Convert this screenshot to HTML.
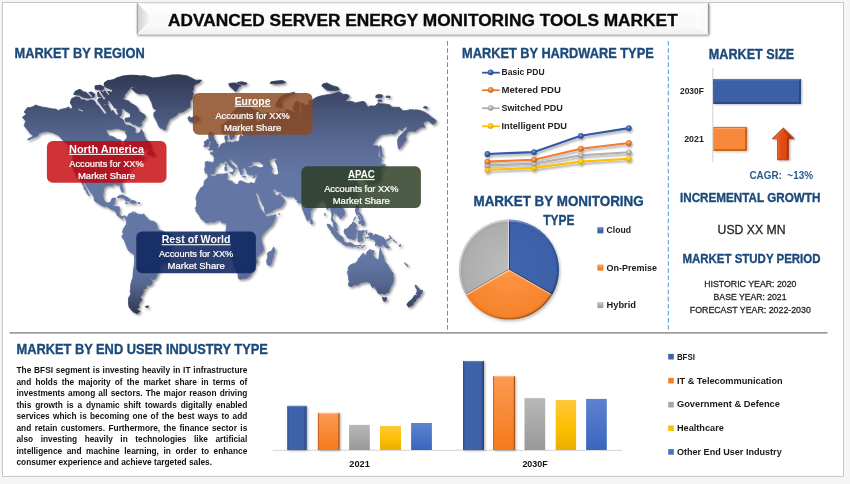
<!DOCTYPE html>
<html lang="en"><head><meta charset="utf-8"><title>Advanced Server Energy Monitoring Tools Market</title>
<style>
html,body{margin:0;padding:0;background:#f5f5f5;}
#page{position:relative;width:850px;height:484px;overflow:hidden;background:#f5f5f5;font-family:"Liberation Sans",sans-serif;}
#page svg{position:absolute;left:0;top:0;}
svg text{font-family:"Liberation Sans",sans-serif;}
.para{position:absolute;left:16.5px;top:365.0px;width:230.8px;font-size:8.3px;line-height:11.52px;font-weight:bold;color:#111;}
.para div{text-align:justify;text-align-last:justify;white-space:nowrap;height:11.52px;}
.para div.last{text-align-last:left;}
</style></head><body>
<div id="page">
<svg width="850" height="484" viewBox="0 0 850 484">
<defs>
<linearGradient id="mapg" gradientUnits="userSpaceOnUse" x1="0" y1="72" x2="0" y2="315">
<stop offset="0" stop-color="#2f3852"/><stop offset="0.10" stop-color="#3d4869"/><stop offset="0.22" stop-color="#505f86"/><stop offset="0.34" stop-color="#5d6f9b"/><stop offset="0.42" stop-color="#6376a4"/><stop offset="0.78" stop-color="#6376a4"/><stop offset="0.87" stop-color="#566790"/><stop offset="0.94" stop-color="#414d6f"/><stop offset="1" stop-color="#2b334d"/>
</linearGradient>
<filter id="mapsh" x="-5%" y="-5%" width="110%" height="110%"><feDropShadow dx="1.6" dy="1.6" stdDeviation="1.3" flood-color="#000" flood-opacity="0.42"/></filter>
<filter id="bansh" x="-5%" y="-20%" width="110%" height="150%"><feDropShadow dx="0.6" dy="1.3" stdDeviation="0.9" flood-color="#000" flood-opacity="0.55"/></filter>
<filter id="lsh" x="-10%" y="-30%" width="120%" height="170%"><feDropShadow dx="1" dy="2" stdDeviation="1.3" flood-color="#000" flood-opacity="0.35"/></filter>
<filter id="psh" x="-10%" y="-10%" width="125%" height="125%"><feDropShadow dx="1.2" dy="1.6" stdDeviation="1.4" flood-color="#000" flood-opacity="0.28"/></filter>
<filter id="bsh" x="-20%" y="-10%" width="150%" height="120%"><feDropShadow dx="1.2" dy="0.8" stdDeviation="1" flood-color="#000" flood-opacity="0.3"/></filter>
<linearGradient id="banL" x1="0" y1="0" x2="1" y2="0"><stop offset="0" stop-color="#cfcfcf"/><stop offset="1" stop-color="#f4f4f4"/></linearGradient>
<linearGradient id="banB" x1="0" y1="0" x2="0" y2="1"><stop offset="0" stop-color="#fdfdfd"/><stop offset="1" stop-color="#f1f1f1"/></linearGradient>
<linearGradient id="banR" x1="0" y1="0" x2="1" y2="0"><stop offset="0" stop-color="#fdfdfd"/><stop offset="1" stop-color="#f7f7f7"/></linearGradient>
<linearGradient id="gOr" x1="0" y1="0" x2="0" y2="1"><stop offset="0" stop-color="#fb9a52"/><stop offset="1" stop-color="#f57a1c"/></linearGradient>
<linearGradient id="gGy" x1="0" y1="0" x2="0" y2="1"><stop offset="0" stop-color="#b8b8b8"/><stop offset="1" stop-color="#989898"/></linearGradient>
<linearGradient id="gYe" x1="0" y1="0" x2="0" y2="1"><stop offset="0" stop-color="#fdc73c"/><stop offset="0.55" stop-color="#fcc000"/><stop offset="1" stop-color="#e9ae00"/></linearGradient>
<linearGradient id="gBl" x1="0" y1="0" x2="0" y2="1"><stop offset="0" stop-color="#5d82cf"/><stop offset="1" stop-color="#3a66c0"/></linearGradient>
<linearGradient id="gDb" x1="0" y1="0" x2="1" y2="0"><stop offset="0" stop-color="#2f4f8f"/><stop offset="0.12" stop-color="#3d62aa"/><stop offset="0.85" stop-color="#3d62aa"/><stop offset="1" stop-color="#243f75"/></linearGradient>
<linearGradient id="gArr" x1="0" y1="0" x2="1" y2="0"><stop offset="0" stop-color="#e9551a"/><stop offset="0.6" stop-color="#e04a10"/><stop offset="1" stop-color="#a8330a"/></linearGradient>
<radialGradient id="pB" gradientUnits="userSpaceOnUse" cx="509" cy="269.6" r="50"><stop offset="0" stop-color="#4066b0"/><stop offset="0.9" stop-color="#3c61a9"/><stop offset="1" stop-color="#365a9f"/></radialGradient>
<radialGradient id="pO" gradientUnits="userSpaceOnUse" cx="509" cy="269.6" r="50"><stop offset="0" stop-color="#fc9648"/><stop offset="0.9" stop-color="#f6842d"/><stop offset="1" stop-color="#ee7a22"/></radialGradient>
<radialGradient id="pG" gradientUnits="userSpaceOnUse" cx="509" cy="269.6" r="50"><stop offset="0" stop-color="#bdbdbd"/><stop offset="0.9" stop-color="#adadad"/><stop offset="1" stop-color="#a0a0a0"/></radialGradient>
<linearGradient id="rim" x1="0.15" y1="0.1" x2="0.85" y2="0.9"><stop offset="0" stop-color="#fff" stop-opacity="0.55"/><stop offset="0.45" stop-color="#fff" stop-opacity="0.05"/><stop offset="0.6" stop-color="#000" stop-opacity="0.05"/><stop offset="1" stop-color="#000" stop-opacity="0.32"/></linearGradient>
<radialGradient id="mB" cx="0.42" cy="0.38" r="0.62"><stop offset="0" stop-color="#7d9be0"/><stop offset="0.55" stop-color="#3b60ae"/><stop offset="1" stop-color="#213c7c"/></radialGradient>
<radialGradient id="mO" cx="0.42" cy="0.38" r="0.62"><stop offset="0" stop-color="#ffb57c"/><stop offset="0.55" stop-color="#f0802e"/><stop offset="1" stop-color="#b25512"/></radialGradient>
<radialGradient id="mG" cx="0.42" cy="0.38" r="0.62"><stop offset="0" stop-color="#dedede"/><stop offset="0.55" stop-color="#b2b2b2"/><stop offset="1" stop-color="#8e8e8e"/></radialGradient>
<radialGradient id="mY" cx="0.42" cy="0.38" r="0.62"><stop offset="0" stop-color="#ffe071"/><stop offset="0.55" stop-color="#fcc000"/><stop offset="1" stop-color="#d69f00"/></radialGradient>
</defs>

<rect x="2.5" y="2.5" width="841" height="473.9" fill="#fff" stroke="#c6c6c6" stroke-width="1"/>
<line x1="447.5" y1="41.1" x2="447.5" y2="332" stroke="#4b91d8" stroke-width="1" stroke-dasharray="4.6 2.5"/>
<line x1="668.3" y1="41.1" x2="668.3" y2="332" stroke="#4b91d8" stroke-width="1" stroke-dasharray="4.6 2.5"/>
<line x1="9.5" y1="332.9" x2="827.5" y2="332.9" stroke="#9e9e9e" stroke-width="1.9"/>
<mask id="lakes" maskUnits="userSpaceOnUse" x="0" y="60" width="450" height="270"><rect x="0" y="60" width="450" height="270" fill="#fff"/><path fill="#000" d="M271.4 159.6L273.0 158.8L276.0 158.6L276.6 159.8L275.5 160.2L274.4 161.5L275.4 162.7L275.8 163.4L276.9 165.5L277.2 166.9L277.3 169.0L277.9 170.7L278.1 172.4L278.1 174.1L276.2 174.5L274.5 174.4L272.8 173.3L271.5 171.5L272.0 170.0L273.3 168.4L272.4 168.0L271.3 165.8L270.2 163.8L269.6 161.1Z"/><path d="M95.9 100.6Q100.5 106.5 105.0 112.6" fill="none" stroke="#000" stroke-width="2.0" stroke-linecap="round"/><path d="M108.8 101.8Q112.5 107.5 117.0 113.8" fill="none" stroke="#000" stroke-width="2.0" stroke-linecap="round"/><path d="M98.6 90.4Q101.5 95.0 104.0 98.6" fill="none" stroke="#000" stroke-width="1.5" stroke-linecap="round"/><path d="M85.5 90.5Q88.5 93.5 91.5 96.5" fill="none" stroke="#000" stroke-width="1.2" stroke-linecap="round"/><path d="M90.5 88.5Q92.5 91.0 94.8 93.6" fill="none" stroke="#000" stroke-width="1.0" stroke-linecap="round"/><path d="M78.6 109.2Q80.5 110.3 82.4 110.8" fill="none" stroke="#000" stroke-width="1.3" stroke-linecap="round"/><path d="M104.5 88.0Q106.5 91.5 108.5 94.5" fill="none" stroke="#000" stroke-width="1.2" stroke-linecap="round"/></mask>
<g filter="url(#mapsh)"><g mask="url(#lakes)"><path fill="url(#mapg)" stroke="url(#mapg)" stroke-width="0.8" stroke-linejoin="round" d="M64.5 141.9L62.7 139.9L58.2 135.3L52.5 132.5L46.8 131.4L39.4 132.7L37.7 135.7L28.6 139.9L27.5 139.3L33.8 136.1L30.9 134.2L26.9 129.1L24.1 125.7L25.8 121.1L22.4 117.2L26.4 114.3L24.1 112.0L27.5 107.5L30.4 107.5L33.8 106.3L35.5 105.0L38.4 106.1L41.9 107.1L45.3 107.5L48.7 108.2L53.3 109.0L55.6 109.1L58.5 110.7L60.2 109.5L62.5 109.1L64.8 108.4L67.1 107.9L68.3 106.8L70.6 109.1L72.3 108.2L74.0 109.5L77.5 109.5L80.9 110.7L83.2 112.9L85.5 113.4L89.0 112.9L91.3 115.0L91.8 112.9L94.7 112.7L98.1 113.2L101.6 113.2L102.7 111.8L104.7 112.3L105.0 110.5L105.6 108.2L104.5 105.9L106.8 103.5L108.5 105.9L109.6 108.2L110.2 109.3L111.4 111.6L113.1 110.0L114.2 111.6L114.8 113.9L116.0 114.3L116.5 112.7L117.1 109.3L118.3 108.6L121.1 108.9L121.9 111.2L121.7 113.9L120.0 116.3L117.7 116.5L116.0 117.2L116.5 119.4L114.8 120.5L113.1 121.6L111.4 122.4L109.1 124.6L107.9 126.1L106.8 129.0L106.4 132.1L108.7 135.2L109.3 136.2L111.9 136.2L114.2 137.4L117.7 139.6L120.8 140.0L120.9 143.2L121.1 144.3L122.3 146.1L122.9 147.4L123.7 147.6L124.6 146.8L124.8 145.1L124.6 143.2L124.0 141.2L125.7 139.6L127.2 137.2L126.9 135.2L125.2 132.7L126.3 130.1L125.7 128.0L125.7 125.2L128.6 125.2L130.9 125.8L132.6 126.9L134.9 128.0L135.5 130.1L134.9 132.5L137.2 133.6L139.5 132.5L140.7 130.5L141.2 129.2L143.0 132.1L144.1 135.2L145.2 138.2L146.4 140.2L148.7 141.2L149.8 143.1L151.3 145.1L151.0 147.0L148.7 148.0L146.4 149.5L143.0 149.5L139.5 149.7L137.8 151.2L136.1 153.1L134.3 155.1L133.8 155.9L136.1 154.0L138.4 152.1L141.2 151.6L141.5 152.1L140.7 153.6L140.7 155.5L141.8 157.0L144.1 157.7L145.2 158.4L146.4 157.3L146.2 155.8L146.6 157.3L145.2 158.6L142.9 159.9L140.1 161.7L139.5 161.3L139.5 160.0L141.2 158.6L138.9 159.0L137.8 159.9L136.1 160.9L134.3 162.2L134.0 163.6L134.9 164.9L134.9 165.2L133.2 165.6L130.9 166.4L130.3 167.1L130.1 168.9L128.9 170.6L128.6 172.3L128.0 173.2L128.3 174.8L128.6 176.0L127.1 177.2L125.7 178.4L124.0 179.8L122.3 181.5L121.8 183.9L122.5 186.6L123.2 189.5L123.3 191.4L122.9 192.3L122.0 192.3L121.4 190.8L120.3 188.4L120.3 186.3L119.1 184.7L117.7 185.2L116.0 184.1L114.2 184.1L112.5 184.4L112.7 186.0L111.4 186.0L109.6 185.4L107.3 185.4L105.6 186.6L103.9 188.2L103.4 191.1L103.1 194.2L103.0 196.8L103.7 199.1L104.7 201.4L106.2 202.4L107.3 202.9L109.6 202.4L110.8 201.5L111.4 199.6L111.9 198.6L113.7 198.0L115.4 198.0L115.6 199.1L114.8 201.1L114.5 202.9L114.0 204.1L113.5 206.3L114.2 206.6L116.5 206.5L118.8 206.6L119.6 207.8L119.3 210.7L119.2 212.9L119.4 214.4L120.6 215.8L121.7 216.5L123.4 216.3L124.0 215.7L125.7 216.1L126.4 217.1L126.3 218.7L125.5 218.6L125.2 217.6L124.0 216.7L123.1 217.7L122.9 219.0L121.5 218.4L120.2 217.7L119.3 217.0L118.1 215.7L116.9 215.1L116.8 213.7L115.7 212.2L114.8 210.7L113.7 210.4L111.9 209.6L110.2 209.1L109.1 208.1L107.3 206.2L106.2 206.3L104.5 206.8L102.2 205.7L100.4 204.8L98.2 203.3L95.9 202.0L94.1 200.3L94.2 198.0L93.3 195.7L91.5 193.4L89.8 191.1L88.4 188.7L86.7 186.6L85.5 183.9L83.6 182.0L83.4 183.9L84.9 186.3L86.1 188.7L87.5 191.1L88.4 193.4L89.5 195.4L89.0 195.9L87.8 194.2L86.4 192.6L86.3 190.8L84.4 189.2L83.8 187.9L84.1 186.6L82.6 184.7L81.5 182.3L80.8 180.7L79.3 178.5L76.9 177.4L75.4 174.3L74.6 172.0L73.1 168.9L72.5 167.3L72.8 164.5L72.3 162.7L72.9 159.1L72.9 156.4L72.1 152.9L74.0 153.3L74.6 154.6L74.4 151.8L73.4 150.8L71.7 149.3L69.4 148.0L68.5 145.7L67.1 143.5ZM131.5 88.5L137.2 86.5L140.7 84.0L144.1 80.9L148.7 78.3L157.9 77.5L163.6 76.5L171.7 74.9L178.6 74.7L186.6 75.7L192.3 78.4L195.8 80.2L201.6 80.1L199.3 82.7L195.8 84.0L193.5 86.6L193.5 89.1L192.4 91.6L193.5 94.0L192.4 96.4L192.4 98.8L190.1 101.2L190.1 103.6L190.1 105.9L190.1 107.3L187.8 108.2L185.5 110.5L182.1 112.1L178.6 112.7L176.3 115.4L172.8 117.6L169.4 119.4L168.2 122.6L166.5 125.8L165.9 129.0L164.8 130.2L162.5 128.8L160.2 128.0L158.5 125.8L157.3 122.6L155.6 119.4L153.9 116.1L153.9 112.7L156.7 110.5L153.3 108.2L152.7 105.9L151.6 102.4L149.8 98.8L148.1 95.2L144.1 93.5L139.5 94.0L136.1 92.7L133.8 90.8ZM147.5 152.7L148.7 150.8L149.8 148.0L151.6 147.0L151.0 149.9L152.7 151.0L153.9 152.7L154.8 154.5L153.9 156.0L151.6 155.7L149.8 154.4L147.2 154.4ZM67.9 148.4L71.2 149.5L73.4 152.7L71.7 152.3L69.4 150.3ZM129.9 202.7L131.5 200.5L133.8 200.5L135.5 201.4L136.7 202.4L136.1 202.9L133.8 203.3L133.2 203.9L131.5 203.2ZM125.4 202.7L127.7 203.0L127.4 203.6L125.5 203.5ZM138.1 202.6L140.0 202.7L139.8 203.5L138.1 203.5ZM126.4 217.1L127.1 218.0L128.5 214.2L129.4 213.5L130.9 213.2L132.4 212.2L133.4 211.6L133.2 212.9L132.7 213.2L133.2 213.9L134.7 212.9L134.9 211.9L136.6 213.2L137.2 214.2L139.5 214.2L141.2 214.8L142.9 214.1L144.2 214.1L144.1 215.1L145.2 215.8L145.8 217.3L147.5 218.0L149.2 220.4L150.9 221.0L153.2 221.1L155.0 222.3L156.1 223.1L156.7 225.1L157.8 226.8L157.8 228.7L157.8 229.4L159.6 230.1L160.1 230.4L162.4 230.8L164.2 232.5L164.4 232.9L167.0 233.3L169.4 233.3L171.1 234.6L172.8 236.1L174.8 236.7L175.4 239.3L175.3 240.7L174.4 243.0L172.9 244.8L171.7 246.9L171.2 247.6L170.6 249.8L170.6 252.6L170.1 254.7L169.5 257.3L168.6 259.7L167.4 261.4L167.2 261.9L165.8 261.9L164.1 262.3L162.2 263.3L160.5 265.1L159.7 266.2L159.6 268.4L159.6 270.0L158.5 271.8L157.7 273.6L156.9 275.4L155.9 277.7L154.5 279.5L153.0 279.5L150.7 278.4L150.3 279.0L152.1 280.4L152.4 281.9L151.7 284.2L150.1 285.3L147.8 285.8L146.4 285.5L146.4 288.1L145.5 289.1L143.2 288.9L143.2 290.5L144.7 291.3L143.2 292.1L142.8 294.5L141.4 295.6L140.3 296.9L141.4 298.6L142.2 299.9L140.3 301.9L139.1 303.9L138.6 305.3L139.3 307.5L136.6 308.2L138.3 310.4L140.4 311.6L138.9 312.3L136.6 313.0L138.0 313.7L134.9 312.7L132.6 311.3L130.3 308.7L129.1 307.0L128.5 304.4L128.5 301.1L128.4 298.2L129.7 296.1L130.8 293.7L130.3 292.1L130.0 291.3L130.5 289.7L130.6 287.0L130.8 284.2L131.2 282.7L131.8 280.4L132.9 277.4L133.0 276.6L133.1 273.6L133.3 271.4L133.7 268.4L134.2 265.5L134.4 262.6L134.6 259.0L134.5 255.4L133.3 254.0L131.7 252.9L129.1 251.2L127.7 249.1L126.6 246.4L125.5 243.4L124.6 240.9L123.5 238.9L122.2 237.8L121.9 236.0L123.1 234.2L123.5 232.9L122.4 232.5L122.6 230.8L123.3 229.4L123.4 228.2L124.7 227.4L125.1 225.8L126.3 224.4L126.4 222.3L126.3 220.1L125.8 219.1ZM145.3 306.6L147.6 305.8L149.0 306.5L147.6 307.5L145.8 307.3ZM187.5 118.3L189.6 116.3L190.8 118.3L192.5 117.2L194.6 116.7L196.9 116.0L198.7 117.1L200.0 119.3L198.6 120.8L196.0 121.9L193.7 122.8L191.9 122.0L189.6 122.0L190.2 120.9L188.0 119.8L190.2 118.9ZM106.8 129.0L109.1 124.6L111.4 122.4L115.4 121.6L117.1 123.5L120.0 121.6L122.3 122.6L123.2 121.6L125.7 125.2L125.7 128.0L126.3 130.1L123.4 130.5L118.8 128.8L114.2 128.8L110.8 130.0ZM208.5 175.4L209.2 175.2L211.8 176.3L213.0 176.7L215.3 175.7L217.0 174.6L218.8 174.1L221.1 174.2L223.4 174.0L225.7 173.7L226.8 173.6L228.0 174.1L227.4 175.8L227.7 177.4L226.9 179.0L227.9 180.2L229.6 181.0L230.6 180.8L232.8 181.7L233.1 183.0L234.8 183.8L237.1 184.8L238.3 183.7L238.3 182.1L240.1 180.8L241.8 181.0L244.1 182.2L246.4 183.1L248.7 183.5L250.5 182.7L251.1 182.6L252.5 183.1L252.7 185.0L252.8 185.8L253.7 188.2L254.8 190.7L255.8 194.8L257.3 198.2L257.7 199.8L257.8 202.3L259.2 204.9L260.5 209.1L262.3 210.8L264.2 213.2L265.3 214.0L265.4 215.5L267.0 216.9L269.0 216.3L271.7 215.6L274.3 215.0L275.9 214.4L275.7 216.5L275.1 218.6L273.9 221.5L272.6 224.3L270.7 226.4L268.8 228.1L267.0 229.7L265.1 231.7L263.9 233.3L262.7 234.6L261.8 236.2L261.0 238.1L261.4 239.8L261.7 242.0L262.4 244.4L263.0 245.3L263.3 248.0L263.3 250.7L261.9 252.7L259.6 254.3L257.9 256.1L256.7 257.2L257.2 259.6L257.5 262.5L254.7 265.4L254.3 266.1L254.6 268.3L254.0 270.5L252.6 271.8L251.0 274.3L249.3 276.5L247.1 277.9L246.7 278.1L243.7 278.4L240.3 279.3L238.5 278.6L238.1 276.3L238.1 274.3L236.6 271.3L235.4 269.1L234.4 266.9L233.4 263.2L233.3 261.1L231.8 258.2L230.2 254.6L229.9 252.5L230.3 249.7L231.6 246.9L231.9 244.8L231.1 242.0L230.5 239.2L229.8 237.5L229.3 235.7L227.7 233.8L226.5 232.1L225.7 230.4L226.4 228.6L226.4 226.5L226.7 225.1L226.3 223.7L225.1 223.0L223.4 223.1L222.3 223.2L221.1 221.5L220.0 220.4L219.3 220.2L217.7 220.4L216.5 220.9L214.8 221.8L213.1 222.5L211.4 222.0L209.7 222.0L206.8 223.0L205.1 222.2L203.0 220.3L201.0 218.8L200.2 217.2L199.5 215.8L198.1 213.9L197.0 212.5L196.1 211.4L196.0 210.0L195.2 208.2L196.4 206.3L196.6 203.3L196.7 201.1L195.8 198.8L196.3 196.5L196.9 194.7L198.3 191.9L199.7 189.5L200.3 188.1L202.0 187.2L203.8 185.6L204.1 184.0L204.0 182.4L204.7 180.8L206.1 179.1L207.5 178.2L208.4 176.4ZM273.7 246.9L274.8 249.6L275.1 251.7L273.9 253.6L273.7 255.7L272.7 259.1L271.5 262.7L271.0 264.8L269.2 265.5L267.4 264.7L266.8 262.5L266.5 260.4L267.7 257.5L267.5 255.5L267.3 253.4L268.5 252.1L270.3 251.6L271.9 250.2L272.7 248.6ZM208.9 175.0L208.1 174.2L206.8 172.9L205.1 173.2L205.2 170.7L204.4 170.3L205.0 168.0L205.4 165.9L205.2 163.6L204.8 162.7L206.3 161.5L208.6 161.8L210.9 162.2L213.2 162.5L213.8 162.1L214.1 160.3L214.2 158.1L214.2 157.2L213.1 155.3L212.2 154.5L210.6 154.1L210.1 153.0L211.6 152.3L213.4 152.7L213.8 152.5L213.6 150.6L214.4 151.2L215.8 151.0L217.4 149.9L217.5 148.4L219.1 147.6L220.3 146.3L221.1 144.3L222.5 143.5L223.7 143.0L225.3 143.2L225.7 142.4L225.5 140.3L224.9 139.1L224.9 136.2L226.5 135.8L227.7 134.8L227.4 137.3L228.0 138.3L226.8 140.4L227.0 141.4L228.2 142.4L229.3 142.0L231.0 141.7L231.8 142.7L233.9 142.0L236.2 141.0L236.9 141.8L238.2 141.9L238.5 140.9L239.6 139.7L239.6 137.6L240.2 135.5L241.4 135.2L242.6 136.7L243.1 136.7L243.5 134.6L242.5 133.1L242.5 132.0L244.3 131.5L247.9 131.7L250.3 130.9L248.5 129.3L245.5 129.6L241.9 130.5L240.2 129.1L240.0 126.9L240.2 124.1L241.4 122.6L243.8 119.8L244.8 118.7L243.5 117.5L241.2 117.8L240.1 120.3L239.1 122.0L236.8 123.9L235.4 125.7L235.2 128.5L236.7 129.6L237.0 131.1L236.1 132.2L234.6 134.3L234.3 136.8L233.8 138.0L232.1 138.4L231.8 139.6L230.4 139.6L229.9 137.7L229.3 135.2L228.4 132.0L227.8 130.3L227.6 131.6L226.5 132.2L224.8 133.9L223.7 134.1L222.2 132.4L221.7 129.9L221.5 127.8L221.5 125.6L223.2 123.9L225.5 122.3L227.2 121.6L228.3 119.4L230.1 116.7L231.3 114.0L233.0 111.7L234.8 109.9L237.1 108.1L239.4 107.2L242.3 105.8L245.6 105.3L248.1 105.6L250.4 106.7L251.6 107.4L250.4 108.5L252.7 108.6L254.4 109.9L257.3 110.5L260.2 112.4L263.1 114.6L263.4 116.7L261.9 117.3L259.6 117.3L256.1 116.2L253.8 115.7L255.6 118.0L255.9 121.0L257.9 122.2L259.4 122.2L259.6 120.7L261.9 120.9L262.5 118.9L264.2 116.9L266.5 116.7L266.8 114.4L266.0 112.1L268.8 113.3L268.8 115.6L271.1 114.3L273.5 113.2L276.9 112.7L278.1 111.4L281.5 112.1L283.8 112.4L285.6 111.5L285.6 109.4L288.5 110.1L290.8 110.8L293.1 111.8L294.3 113.0L295.4 111.4L293.1 109.0L293.1 106.7L294.8 104.4L295.3 102.0L297.6 101.3L299.7 102.6L299.4 105.6L299.4 109.1L298.9 111.4L300.7 113.7L299.0 117.1L301.3 114.9L302.3 111.5L301.1 106.8L301.6 103.3L304.5 104.1L305.7 105.7L307.9 104.6L310.3 105.8L309.0 102.3L308.4 100.8L312.5 99.9L315.9 97.6L319.5 96.3L324.4 95.2L329.7 94.4L333.9 93.4L338.6 91.9L340.8 92.9L343.2 94.4L346.7 94.3L349.4 95.9L347.8 98.4L345.5 100.4L346.6 101.1L343.1 102.6L348.8 101.2L352.1 101.6L355.3 102.9L359.5 102.0L363.2 101.3L365.3 102.5L366.3 104.9L367.9 107.2L370.1 106.0L372.2 105.9L375.0 106.1L377.2 103.9L378.7 102.6L380.1 103.8L384.7 103.9L389.5 104.7L392.0 107.2L395.7 107.3L399.3 107.3L401.8 109.8L403.1 110.9L406.7 110.4L410.2 109.7L413.7 109.7L414.4 112.0L414.9 109.7L419.5 110.3L422.9 111.4L425.2 112.5L428.5 114.6L431.8 117.4L434.5 119.0L436.4 120.9L434.0 124.0L432.4 124.2L429.7 121.6L427.5 120.8L425.3 121.6L423.1 122.5L424.3 125.9L424.6 127.5L422.1 126.8L419.9 128.1L417.1 129.7L414.9 131.7L412.0 131.0L409.7 131.6L407.4 132.0L406.6 134.6L405.2 136.6L406.5 139.1L405.4 141.4L403.6 142.8L402.9 144.9L401.3 146.3L399.6 148.9L399.2 149.5L398.3 147.5L397.7 143.7L397.6 139.9L398.9 136.8L401.5 134.1L404.4 131.6L406.7 129.6L407.2 127.5L406.0 126.5L402.5 128.6L402.5 130.7L398.8 128.7L396.4 132.9L392.7 134.2L391.1 133.3L387.5 134.0L383.8 134.3L381.3 134.4L378.3 137.3L375.9 139.5L374.2 142.7L372.3 144.3L374.8 145.9L377.1 145.6L379.2 147.4L378.9 150.1L378.3 153.2L378.2 156.1L376.8 158.9L375.8 161.6L373.7 164.3L371.5 166.5L369.3 166.6L367.9 167.9L366.8 170.2L365.5 171.9L364.4 172.7L365.6 174.5L366.8 177.1L366.8 179.6L366.4 180.3L364.7 180.9L363.3 181.1L363.5 179.0L363.4 176.9L361.9 175.5L361.6 174.2L361.9 172.5L360.7 171.7L358.6 172.3L357.2 173.4L358.0 170.5L356.8 169.7L355.2 171.5L353.5 172.5L353.1 173.3L354.5 175.0L355.0 176.1L356.8 175.2L358.8 176.0L357.6 177.1L356.3 178.2L355.2 179.9L356.4 181.6L357.2 183.7L358.3 185.6L358.4 187.0L357.3 187.8L358.4 188.7L358.0 190.7L356.7 192.8L355.8 194.6L354.7 196.4L353.9 197.1L352.4 198.6L350.6 199.4L349.7 199.9L348.4 200.3L346.9 200.8L345.6 201.3L345.4 202.6L344.8 200.9L343.4 200.4L342.2 201.0L341.4 202.1L340.4 204.3L341.3 206.2L342.5 207.8L343.5 208.7L344.4 210.9L344.8 213.3L344.7 214.7L343.4 216.0L342.3 216.5L341.9 217.8L340.1 219.0L339.7 217.4L339.3 216.6L338.1 216.3L337.3 214.8L336.1 213.8L334.9 213.6L334.7 212.5L333.8 212.7L333.6 214.7L332.7 216.5L332.6 218.7L333.6 219.9L333.9 221.7L335.2 222.2L336.1 223.4L336.9 225.3L336.8 228.2L337.7 230.6L336.8 231.0L335.6 229.7L334.3 228.4L333.6 226.7L333.4 224.4L333.3 222.8L332.7 221.8L331.5 220.7L331.3 218.5L331.9 216.3L331.8 214.2L331.3 212.0L330.7 209.9L330.6 208.4L329.6 207.7L328.7 208.5L327.9 209.6L326.7 209.3L327.0 207.0L326.4 204.8L325.2 203.2L324.4 201.7L323.8 199.7L322.3 199.4L320.7 200.5L318.9 200.7L318.4 202.1L317.6 203.5L316.1 204.5L315.0 206.1L313.3 208.1L312.0 209.6L310.8 210.7L310.7 213.4L310.5 216.3L310.5 218.0L309.6 219.4L308.7 220.0L307.9 221.1L306.7 219.9L306.3 218.5L305.4 216.1L304.5 214.4L303.7 211.8L302.8 210.2L302.1 207.6L301.8 205.8L301.5 203.5L301.3 202.0L301.0 202.8L299.4 203.4L297.5 202.3L296.8 201.1L298.3 199.8L296.0 199.5L294.7 198.4L294.0 197.1L293.3 196.1L290.8 196.5L287.6 196.6L285.1 195.9L283.2 195.1L281.7 194.1L281.0 191.8L278.2 191.7L276.4 190.8L274.5 188.7L273.7 186.7L272.7 184.7L271.3 184.4L270.4 185.0L270.4 186.0L271.2 188.2L272.2 189.5L273.0 190.8L273.2 192.5L273.9 193.8L274.2 191.6L274.8 193.6L274.7 194.5L276.0 195.3L277.8 195.7L279.3 194.3L280.2 193.2L280.7 195.2L281.2 196.6L283.4 198.5L285.1 200.8L284.1 202.8L283.0 204.1L283.0 205.5L281.7 206.6L280.0 207.7L276.6 208.6L273.9 209.9L272.1 211.4L269.5 212.5L267.5 213.5L265.5 213.7L265.1 212.5L264.5 210.1L264.4 207.6L262.8 205.1L261.6 202.5L260.1 199.4L259.3 196.5L258.2 194.3L257.1 191.5L256.0 189.1L255.2 188.1L255.5 185.8L254.6 188.2L253.5 187.4L252.8 185.1L252.6 183.1L253.9 183.3L254.8 183.0L255.5 181.6L255.7 180.3L256.4 179.0L256.9 177.3L257.0 175.7L257.4 174.6L256.0 174.8L254.8 175.4L253.1 175.5L251.4 174.4L249.6 175.3L248.3 174.5L247.2 174.0L247.0 172.4L246.2 171.6L246.6 170.3L245.8 169.8L246.1 168.8L247.5 168.5L249.3 168.3L249.4 167.4L251.7 167.4L254.1 166.1L256.4 166.2L258.0 167.3L259.7 167.7L261.9 167.6L263.5 166.7L263.7 165.0L261.9 163.7L259.8 161.8L258.7 160.9L258.3 160.4L259.8 159.1L260.0 157.6L261.1 157.0L259.2 157.2L257.0 158.2L256.4 159.1L258.1 160.2L256.8 161.0L255.6 161.8L254.9 162.0L253.5 160.2L254.7 159.1L252.9 158.5L251.7 157.9L250.6 159.3L250.1 160.3L249.0 162.4L248.8 163.6L247.8 165.0L248.2 166.4L249.3 167.3L248.1 167.5L246.9 168.2L245.9 169.0L245.7 168.0L244.5 167.6L243.3 168.1L243.3 169.1L242.1 168.5L242.0 168.0L241.7 169.4L242.3 170.7L243.3 172.1L243.2 172.9L242.3 172.4L242.0 173.4L242.2 174.8L241.3 174.8L240.5 174.3L240.1 172.7L240.1 171.9L239.4 170.9L238.6 169.5L237.9 168.1L238.0 166.4L237.4 165.2L236.3 164.3L234.5 162.8L233.0 161.5L232.2 159.6L231.5 160.4L231.1 158.9L229.6 159.2L229.7 160.9L230.0 161.8L231.1 162.7L231.8 164.5L233.3 165.5L234.1 165.6L233.9 166.5L235.1 167.1L236.8 168.8L236.6 169.3L235.1 168.1L234.6 169.3L235.3 170.7L234.4 171.5L233.8 172.6L233.4 172.1L233.9 170.7L233.4 169.0L232.5 167.9L231.8 167.6L230.4 166.7L229.5 165.8L228.1 164.5L227.5 163.6L227.3 162.5L226.7 161.5L225.7 161.0L224.7 161.8L224.0 162.2L222.9 163.1L221.7 162.8L220.3 162.4L219.3 162.9L219.0 164.2L219.1 165.3L218.0 166.1L216.3 167.1L215.0 169.3L215.6 170.5L214.8 171.4L214.4 172.6L213.0 173.9L211.3 174.0L210.3 173.9L209.2 174.9ZM203.7 146.0L204.4 145.0L205.1 143.9L204.4 143.3L204.2 141.7L206.0 140.9L207.1 139.5L208.6 139.7L209.1 141.1L208.9 143.5L208.4 145.7L206.3 146.4L204.4 147.0ZM228.8 83.6L232.4 83.0L235.8 83.0L238.1 84.3L241.0 86.1L238.1 87.4L237.5 89.4L235.8 91.6L233.5 89.8L231.7 88.1L229.4 86.1ZM237.0 82.5L241.6 81.8L246.1 82.7L247.2 83.8L243.8 85.0L239.3 84.1ZM275.2 105.3L276.3 102.9L278.0 100.5L279.2 98.1L281.5 96.2L284.9 94.5L289.5 93.4L294.6 92.2L294.0 94.0L289.5 95.6L284.9 98.2L282.6 100.6L281.5 103.0L282.1 105.4L281.5 107.5L278.1 107.2L275.8 106.4ZM321.7 85.8L322.9 84.0L326.6 82.9L332.2 85.7L338.0 87.3L339.4 89.9L332.4 90.8L326.8 90.1ZM271.1 81.8L275.7 81.1L282.5 80.5L285.9 82.4L281.4 83.6L275.7 84.0L270.0 83.3ZM376.2 95.2L378.9 94.4L382.4 95.1L382.3 97.1L378.9 97.9L375.6 97.2ZM386.5 95.9L390.1 96.3L390.1 97.8L385.9 97.2ZM378.4 99.9L381.8 100.1L381.8 101.6L377.8 101.2ZM424.0 106.5L426.8 106.8L427.9 108.2L425.1 108.3L423.4 107.7ZM380.1 145.3L381.3 146.9L381.7 150.0L381.9 153.0L382.6 155.5L383.6 156.1L381.4 156.0L381.3 158.8L382.3 160.9L381.0 160.4L380.5 161.7L380.3 158.8L380.4 156.0L380.1 153.1L379.7 150.1L379.8 147.4ZM380.4 162.5L382.4 164.4L384.7 164.2L385.3 165.7L383.2 166.8L382.4 168.5L380.2 167.6L379.1 168.2L378.6 169.6L378.2 167.8L378.9 166.4L380.0 166.4L380.3 164.3ZM368.7 182.3L369.7 183.5L369.3 185.7L368.7 186.7L368.3 186.9L367.8 185.7L367.8 184.3L367.2 183.8L367.8 182.8ZM370.5 182.3L372.8 181.8L373.0 182.5L372.4 183.3L371.3 183.2L371.1 184.3L370.4 183.5ZM357.8 195.8L358.4 196.3L357.8 198.6L357.0 201.1L356.3 199.8L356.2 198.5L357.0 196.7ZM343.7 204.1L344.6 203.0L345.9 202.9L346.3 203.7L345.7 204.8L344.8 205.6L343.8 205.1ZM310.9 218.7L312.1 220.5L312.9 222.2L312.6 223.5L311.5 224.2L310.8 223.8L310.6 222.7L310.6 221.0L310.7 219.8ZM229.6 172.4L233.4 171.9L232.8 174.6L229.7 173.1ZM224.8 167.1L226.7 166.8L226.4 170.3L225.0 170.6ZM225.3 164.2L226.3 163.5L226.4 165.3L226.0 166.4L225.3 165.3ZM242.6 176.3L245.8 176.7L245.7 177.2L242.7 176.9ZM252.8 177.1L253.6 176.6L255.5 176.2L254.8 177.2L253.6 177.8L252.9 177.7ZM247.6 156.0L264.0 156.1L263.9 161.5L252.3 161.7L252.0 165.5L247.5 166.0ZM269.8 183.9L274.2 184.2L274.3 188.7L272.0 191.0L269.8 188.1ZM252.2 183.4L255.7 185.7L256.1 189.9L257.1 193.2L254.5 192.6L253.1 188.2L252.1 185.7ZM212.8 148.8L217.3 148.0L217.7 148.4L215.8 151.2L213.4 151.0ZM207.8 174.0L210.0 174.1L210.5 176.5L208.0 176.7ZM360.8 215.4L361.9 215.4L362.5 217.2L362.1 218.7L361.4 218.7L361.0 217.1ZM358.2 216.3L359.5 216.6L360.6 217.5L360.3 219.5L359.6 220.0L359.0 218.6L358.5 218.0ZM353.3 220.3L354.3 218.7L355.4 216.7L355.7 216.8L354.9 219.2L353.6 220.6ZM356.5 213.8L357.3 213.9L357.7 215.2L357.2 215.6L356.7 214.7ZM353.1 245.3L354.4 245.4L354.1 246.3L353.2 245.9ZM354.6 245.5L355.3 245.6L355.1 246.4L354.6 246.3ZM355.4 245.6L357.9 245.4L357.5 246.1L355.5 246.5ZM358.4 245.5L361.4 245.1L361.1 245.9L358.5 246.2ZM357.4 247.1L359.0 247.5L358.4 248.3L357.5 247.7ZM361.3 248.1L362.5 246.6L364.0 245.5L365.2 245.2L364.3 246.2L362.8 247.3L361.7 248.1ZM365.8 230.3L366.2 229.9L366.9 230.8L366.5 231.8L367.0 232.5L366.5 234.1L366.1 232.6L365.9 231.6ZM366.5 237.3L368.9 237.1L368.6 238.0L366.6 238.0ZM364.8 237.7L365.8 237.6L365.6 238.5L365.0 238.4ZM386.3 239.9L388.2 238.9L390.4 237.7L390.7 238.5L388.7 240.4L387.1 240.9ZM389.1 235.4L390.4 236.3L391.5 238.4L391.0 238.2L389.9 236.5L389.0 235.8ZM393.2 239.3L394.7 241.1L394.3 241.7L393.2 240.1ZM395.4 241.4L396.5 242.4L396.3 242.9L395.3 241.8ZM398.9 245.4L400.4 245.9L400.2 246.5L399.0 246.2ZM400.1 243.9L401.0 245.5L400.6 245.8L400.0 244.4ZM404.7 262.7L406.5 264.1L408.4 266.2L407.8 266.4L406.0 265.0L404.8 263.4ZM380.3 248.3L381.4 251.1L381.7 254.0L382.5 254.0L383.4 255.9L384.0 258.3L384.5 261.0L385.2 262.2L387.2 264.1L388.1 265.7L390.1 268.9L391.6 271.5L393.1 273.2L393.2 276.7L393.7 278.7L393.0 281.6L392.7 283.7L391.4 285.4L390.6 286.9L389.9 288.9L388.9 291.3L388.7 292.4L386.4 293.0L384.5 294.3L384.4 294.7L382.8 293.6L382.7 292.8L381.1 294.1L378.8 293.4L377.5 292.4L376.9 290.8L376.4 289.1L375.1 288.8L375.6 287.6L375.2 286.6L373.9 288.1L374.5 286.3L374.9 284.1L374.0 285.8L372.7 287.6L371.9 286.9L370.8 284.4L370.3 283.0L367.8 281.9L364.9 282.0L361.3 282.7L358.9 283.7L358.2 285.1L356.4 285.0L354.1 285.0L351.6 286.6L349.5 286.3L348.5 285.2L348.4 284.1L349.3 281.6L348.6 279.2L348.4 276.6L347.7 273.2L347.2 272.5L348.1 270.7L348.1 268.4L349.3 265.8L350.9 264.6L352.2 264.1L354.1 263.5L356.1 262.7L357.6 260.6L358.1 259.8L358.4 258.3L359.6 257.5L359.6 258.7L360.8 255.9L362.3 254.0L363.6 253.1L364.5 254.8L364.5 255.4L366.1 255.0L366.6 252.8L367.8 251.1L369.1 250.5L369.9 249.1L371.2 250.5L373.2 250.5L374.3 251.0L373.3 252.9L373.0 255.3L374.0 256.7L375.3 257.9L377.1 259.5L378.6 259.4L379.2 256.1L379.4 252.8L379.8 250.4L380.0 248.8ZM382.3 297.1L384.4 297.7L386.5 297.4L386.5 299.4L385.8 300.9L384.6 301.5L383.5 301.0L382.8 299.3ZM408.4 306.3L409.2 306.4L409.0 307.1L408.4 307.0ZM324.9 213.1L325.2 213.3L325.1 215.8L324.7 215.6ZM278.5 213.7L280.0 214.0L279.9 214.2L278.6 214.1ZM369.3 166.6L373.7 164.3L376.8 158.9L378.2 156.1L380.3 158.8L380.5 161.7L380.4 162.5L378.9 166.4L378.6 169.6L378.7 172.9L377.2 176.5L374.4 178.9L370.7 179.9L368.6 182.1L367.8 182.8L366.4 180.3L366.8 177.1L364.4 172.7L366.8 170.2L367.9 167.9Z"/><path fill="url(#mapg)" stroke="url(#mapg)" stroke-width="2.4" stroke-linejoin="round" d="M113.1 90.8L114.2 88.3L115.4 85.2L111.9 83.2L110.8 80.9L114.2 80.1L117.7 78.3L123.4 76.7L130.3 76.0L137.2 76.2L142.9 77.3L144.1 78.8L140.7 80.6L137.2 82.4L133.8 84.5L130.3 86.5L129.2 88.3L126.9 90.3L125.7 92.7L122.3 93.5L117.7 93.2L113.1 93.0ZM105.0 83.2L108.5 80.9L110.8 83.2L114.2 85.2L114.2 87.8L110.8 88.5L107.3 87.0L105.0 85.2ZM108.5 95.7L105.0 94.7L104.5 91.7L108.5 92.2L111.9 93.2L114.2 94.0L117.7 94.2L122.3 94.4L124.0 95.4L123.4 97.1L118.8 97.6L114.2 97.6L109.6 97.3ZM112.5 99.3L117.7 99.3L122.3 99.5L125.7 101.2L128.0 101.7L130.3 104.0L133.2 105.4L136.1 107.5L137.8 109.8L138.4 112.1L141.8 114.1L144.1 115.6L144.7 117.2L142.4 119.8L140.1 123.1L140.9 124.8L139.5 125.8L136.6 124.8L136.6 122.2L133.8 124.1L132.0 122.4L129.7 120.7L126.0 120.7L125.7 119.0L129.2 118.5L130.9 117.6L131.5 115.0L130.3 112.3L126.9 110.7L125.1 108.6L124.6 107.5L121.1 108.4L116.5 107.7L113.7 107.0L112.5 105.2L111.9 102.4ZM80.9 109.3L80.3 107.7L82.1 106.8L80.3 105.4L78.6 104.2L79.8 101.6L83.2 100.4L85.5 101.6L89.0 101.4L91.3 100.7L94.1 101.6L95.3 104.0L95.9 106.3L98.7 108.2L98.1 110.5L94.7 110.5L90.1 111.4L85.5 111.4L82.6 110.0ZM71.7 103.8L71.1 102.3L72.3 99.3L75.7 97.6L79.2 98.3L80.3 100.4L78.0 102.3L76.9 104.7L73.4 105.6ZM80.9 93.4L84.4 92.7L87.8 93.9L91.3 92.7L94.1 94.4L93.6 96.4L89.0 97.3L84.4 96.9L80.9 95.2ZM97.6 101.6L99.3 99.3L102.7 98.8L104.5 101.2L103.9 103.5L100.4 104.7ZM105.0 101.2L106.2 98.8L109.6 98.5L111.9 99.7L109.6 102.1L105.6 103.1ZM98.1 93.2L101.0 92.2L103.3 93.9L102.2 96.4L98.7 95.9ZM105.6 94.9L107.9 95.2L107.3 96.9L104.5 96.4ZM76.3 91.5L79.8 90.2L82.1 92.0L78.6 94.4L74.6 93.9ZM95.8 86.5L100.4 86.0L103.9 87.8L101.6 89.5L95.8 88.5ZM101.6 108.9L103.9 108.4L105.6 110.0L103.9 111.4L101.0 110.5ZM115.4 120.9L116.5 119.8L116.5 117.9L118.3 117.2L119.4 118.9L121.7 119.8L123.2 121.6L122.3 122.6L120.0 121.6L117.1 123.5L115.2 122.4ZM132.6 77.3L144.1 76.5L151.0 78.1L141.8 86.0L129.2 86.0ZM72.8 104.0L104.0 106.5L105.0 114.0L83.5 113.5L82.8 110.6L79.5 109.3L73.2 108.4Z"/><path fill="url(#mapg)" stroke="url(#mapg)" stroke-width="1.8" stroke-linejoin="round" d="M117.8 197.4L120.0 195.7L122.3 195.6L124.6 196.5L126.9 197.7L128.6 199.1L130.1 200.0L129.2 200.5L126.3 200.5L125.7 199.3L123.4 197.7L121.1 196.7L119.4 197.3ZM210.0 149.2L210.5 148.0L211.7 147.7L212.6 147.1L212.3 147.3L211.1 146.9L209.8 146.3L211.0 145.5L210.8 144.5L210.6 143.5L212.3 143.4L212.1 142.2L211.8 140.4L210.0 140.8L210.3 140.2L209.5 139.1L209.3 137.1L209.1 135.1L210.0 132.8L212.2 132.8L211.2 134.9L211.8 134.7L213.5 135.1L212.9 137.1L212.4 138.2L213.5 138.6L214.1 140.2L215.2 141.2L215.9 143.0L216.1 144.2L217.7 144.8L216.6 147.2L217.3 148.0L216.0 148.5L214.0 148.7L212.3 148.8L211.1 149.4L209.1 149.7ZM380.2 169.5L380.4 171.2L381.1 172.8L380.0 175.1L380.1 177.0L379.9 178.7L380.0 179.2L378.9 180.5L378.6 179.6L377.6 180.9L377.0 181.1L375.6 181.2L375.5 181.6L374.3 183.1L373.5 181.8L373.7 181.2L372.2 181.2L370.5 181.8L368.6 182.1L369.2 181.3L370.7 179.9L372.4 179.5L373.9 179.5L374.4 178.9L375.3 177.2L375.8 176.4L375.7 177.5L377.2 176.5L378.0 175.2L378.7 172.9L378.7 171.3L378.9 170.1L380.0 170.0ZM356.6 206.2L358.4 206.3L358.4 208.6L357.7 210.1L357.6 211.6L358.1 212.8L359.2 213.1L360.4 214.6L360.6 215.2L359.6 214.6L358.7 213.7L357.8 213.2L356.6 213.0L357.0 212.1L356.0 211.4L355.9 209.5L356.3 209.1L356.4 207.7ZM359.2 222.0L359.8 221.4L360.5 220.9L361.6 221.1L362.0 220.4L362.4 219.2L363.5 221.0L363.9 222.4L363.8 224.1L363.2 223.9L363.0 225.1L361.8 224.3L361.4 223.1L360.5 222.4L359.3 223.2ZM345.1 229.6L346.9 230.0L347.2 228.9L349.2 227.8L350.3 225.7L351.7 224.8L352.6 223.9L353.3 222.5L354.5 223.5L355.6 224.9L356.5 225.5L355.5 226.5L355.2 226.7L355.4 228.5L355.9 230.0L357.4 231.5L355.9 231.7L355.8 232.9L355.9 234.4L355.2 234.9L355.0 236.2L355.0 238.2L354.4 238.5L353.0 239.1L351.6 238.1L349.8 238.1L348.5 237.6L347.4 236.8L346.6 234.9L345.3 233.6L344.7 232.3L344.5 231.2ZM327.7 224.6L329.6 225.1L330.7 226.6L331.7 227.6L333.2 228.8L334.0 229.9L335.2 231.5L337.3 233.1L338.2 234.7L339.7 236.1L342.4 237.8L343.1 240.3L343.6 242.3L341.9 242.3L340.1 241.1L338.0 239.5L335.5 237.1L334.0 234.7L332.1 232.7L331.5 230.5L329.8 228.5L328.5 226.7L327.7 225.2ZM343.1 243.8L343.9 242.5L345.1 242.6L346.9 243.5L349.0 243.7L349.3 242.9L351.1 243.6L353.0 244.8L353.1 246.2L351.1 245.9L348.5 245.4L346.5 245.2L344.8 244.7ZM358.4 232.0L359.5 231.2L361.9 231.8L363.5 230.7L363.9 231.7L362.5 232.7L360.4 232.4L359.3 233.1L359.1 234.3L360.3 234.6L361.3 234.4L362.6 234.3L362.4 234.9L361.2 235.8L361.0 236.1L361.6 237.5L362.1 239.0L362.1 240.4L361.5 240.9L360.9 240.1L360.9 239.0L360.5 237.5L360.4 237.1L359.8 238.3L359.7 240.5L359.5 241.3L358.6 241.4L358.6 239.7L358.8 238.3L357.9 237.2L358.4 236.0L358.4 234.5L358.7 233.1ZM368.9 234.1L370.4 233.3L371.8 233.8L372.3 236.2L372.8 237.4L374.3 235.8L375.8 234.7L378.5 236.0L380.4 236.8L382.4 237.5L383.8 239.2L385.0 240.6L385.9 241.6L385.2 242.9L386.5 245.1L388.1 246.9L389.0 247.5L386.5 247.0L385.1 246.0L383.9 244.5L382.6 243.4L381.4 244.4L380.9 245.9L378.8 245.8L377.2 244.4L375.7 244.9L376.4 242.7L375.7 240.5L374.2 239.2L372.8 238.9L371.3 238.2L370.7 238.5L369.9 236.9L371.3 236.3L370.1 235.9L369.3 234.9ZM415.6 285.6L416.5 286.5L417.6 288.1L417.9 289.4L418.7 288.9L419.4 290.8L420.9 291.1L422.0 290.7L421.4 292.9L420.2 293.6L419.5 295.9L418.1 297.3L417.5 296.8L418.1 295.1L417.3 294.1L416.6 293.5L417.5 292.5L417.7 290.5L417.4 288.9L415.9 286.8ZM415.2 295.6L417.0 296.6L416.3 298.5L415.3 300.0L415.3 301.0L414.0 301.4L413.1 302.3L412.7 304.0L410.8 305.7L409.4 305.9L407.9 305.3L407.4 304.5L408.7 302.8L409.9 301.6L411.7 300.2L413.2 298.6L414.0 297.3L414.6 296.1Z"/></g></g>
<rect x="46.9" y="141.0" width="119.6" height="41.8" rx="5.8" fill="#c40004" fill-opacity="0.80"/><text x="106.5" y="152.8" font-size="10.8" font-weight="bold" fill="#fff" text-anchor="middle" text-decoration="underline" textLength="75.0" lengthAdjust="spacingAndGlyphs">North America</text><text x="106.5" y="166.7" font-size="9" fill="#fff" stroke="#fff" stroke-width="0.22" text-anchor="middle" textLength="74.3" lengthAdjust="spacingAndGlyphs">Accounts for XX%</text><text x="106.5" y="179.0" font-size="9" fill="#fff" stroke="#fff" stroke-width="0.22" text-anchor="middle" textLength="57.2" lengthAdjust="spacingAndGlyphs">Market Share</text>
<rect x="192.9" y="92.9" width="119.6" height="41.8" rx="5.8" fill="#8a4a22" fill-opacity="0.84"/><text x="252.6" y="104.7" font-size="10.8" font-weight="bold" fill="#fff" text-anchor="middle" text-decoration="underline" textLength="35.8" lengthAdjust="spacingAndGlyphs">Europe</text><text x="252.6" y="118.6" font-size="9" fill="#fff" stroke="#fff" stroke-width="0.22" text-anchor="middle" textLength="74.3" lengthAdjust="spacingAndGlyphs">Accounts for XX%</text><text x="252.6" y="130.9" font-size="9" fill="#fff" stroke="#fff" stroke-width="0.22" text-anchor="middle" textLength="57.2" lengthAdjust="spacingAndGlyphs">Market Share</text>
<rect x="301.3" y="166.3" width="119.6" height="41.8" rx="5.8" fill="#2c3d24" fill-opacity="0.84"/><text x="361.3" y="178.1" font-size="10.8" font-weight="bold" fill="#fff" text-anchor="middle" text-decoration="underline" textLength="26.8" lengthAdjust="spacingAndGlyphs">APAC</text><text x="361.3" y="192.0" font-size="9" fill="#fff" stroke="#fff" stroke-width="0.22" text-anchor="middle" textLength="74.3" lengthAdjust="spacingAndGlyphs">Accounts for XX%</text><text x="361.3" y="204.3" font-size="9" fill="#fff" stroke="#fff" stroke-width="0.22" text-anchor="middle" textLength="57.2" lengthAdjust="spacingAndGlyphs">Market Share</text>
<rect x="136.3" y="231.4" width="119.6" height="41.8" rx="5.8" fill="#10265f" fill-opacity="0.89"/><text x="196.1" y="243.2" font-size="10.8" font-weight="bold" fill="#fff" text-anchor="middle" text-decoration="underline" textLength="68.8" lengthAdjust="spacingAndGlyphs">Rest of World</text><text x="196.1" y="257.1" font-size="9" fill="#fff" stroke="#fff" stroke-width="0.22" text-anchor="middle" textLength="74.3" lengthAdjust="spacingAndGlyphs">Accounts for XX%</text><text x="196.1" y="269.4" font-size="9" fill="#fff" stroke="#fff" stroke-width="0.22" text-anchor="middle" textLength="57.2" lengthAdjust="spacingAndGlyphs">Market Share</text>
<g filter="url(#bansh)"><rect x="137" y="2.8" width="571.7" height="31.4" fill="#fdfdfd"/></g>
<polygon points="137,2.8 149.5,15.8 149.5,21.5 137,34.2" fill="url(#banL)"/>
<polygon points="137,34.2 149.5,21.5 149.5,27.5 696.5,27.5 708.7,34.2" fill="url(#banB)"/>
<polygon points="708.7,2.8 696.5,15 696.5,27.5 708.7,34.2" fill="url(#banR)"/>
<line x1="137.4" y1="2.8" x2="137.4" y2="34.2" stroke="#9c9c9c" stroke-width="0.9"/>
<rect x="149.5" y="15" width="547" height="12.5" fill="#f9f9f9"/>
<line x1="708.4" y1="2.8" x2="708.4" y2="34.2" stroke="#808080" stroke-width="0.9"/>
<line x1="137" y1="3" x2="708.7" y2="3" stroke="#d8d8d8" stroke-width="0.6"/>
<text x="168.1" y="25.6" font-size="17.20" font-weight="bold" fill="#0a0a0a" textLength="509.6" lengthAdjust="spacingAndGlyphs" stroke="#0a0a0a" stroke-width="0.35">ADVANCED SERVER ENERGY MONITORING TOOLS MARKET</text>
<text x="14.6" y="57.9" font-size="14.20" font-weight="bold" fill="#1b4a7a" textLength="130.1" lengthAdjust="spacingAndGlyphs" stroke="#1b4a7a" stroke-width="0.35">MARKET BY REGION</text>
<text x="462.0" y="57.8" font-size="14.20" font-weight="bold" fill="#1b4a7a" textLength="191.7" lengthAdjust="spacingAndGlyphs" stroke="#1b4a7a" stroke-width="0.35">MARKET BY HARDWARE TYPE</text>
<text x="708.8" y="58.7" font-size="14.20" font-weight="bold" fill="#1b4a7a" textLength="85.5" lengthAdjust="spacingAndGlyphs" stroke="#1b4a7a" stroke-width="0.35">MARKET SIZE</text>
<text x="473.5" y="206.0" font-size="14.20" font-weight="bold" fill="#1b4a7a" textLength="170.2" lengthAdjust="spacingAndGlyphs" stroke="#1b4a7a" stroke-width="0.35">MARKET BY MONITORING</text>
<text x="543.3" y="225.0" font-size="14.20" font-weight="bold" fill="#1b4a7a" textLength="31.0" lengthAdjust="spacingAndGlyphs" stroke="#1b4a7a" stroke-width="0.35">TYPE</text>
<text x="680.0" y="201.7" font-size="12.90" font-weight="bold" fill="#1b4a7a" textLength="140.4" lengthAdjust="spacingAndGlyphs" stroke="#1b4a7a" stroke-width="0.35">INCREMENTAL GROWTH</text>
<text x="682.4" y="262.8" font-size="13.10" font-weight="bold" fill="#1b4a7a" textLength="138.1" lengthAdjust="spacingAndGlyphs" stroke="#1b4a7a" stroke-width="0.35">MARKET STUDY PERIOD</text>
<text x="16.5" y="353.7" font-size="14.40" font-weight="bold" fill="#1b4a7a" textLength="251.3" lengthAdjust="spacingAndGlyphs" stroke="#1b4a7a" stroke-width="0.35">MARKET BY END USER INDUSTRY TYPE</text>
<text x="749.4" y="178.8" font-size="10.4" font-weight="bold" fill="#2a5a8c" textLength="63.6" lengthAdjust="spacingAndGlyphs" xml:space="preserve">CAGR:  ~13%</text>
<line x1="482.0" y1="72.7" x2="499.8" y2="72.7" stroke="#3259a8" stroke-width="1.8"/>
<circle cx="490.6" cy="72.3" r="2.9" fill="url(#mB)"/>
<text x="501.5" y="75.4" font-size="9.50" font-weight="bold" fill="#222" textLength="43.1" lengthAdjust="spacingAndGlyphs">Basic PDU</text>
<line x1="482.0" y1="90.2" x2="499.8" y2="90.2" stroke="#ee7d31" stroke-width="1.8"/>
<circle cx="490.6" cy="89.8" r="2.9" fill="url(#mO)"/>
<text x="501.5" y="92.9" font-size="9.50" font-weight="bold" fill="#222" textLength="59.3" lengthAdjust="spacingAndGlyphs">Metered PDU</text>
<line x1="482.0" y1="108.2" x2="499.8" y2="108.2" stroke="#b0b0b0" stroke-width="1.8"/>
<circle cx="490.6" cy="107.8" r="2.9" fill="url(#mG)"/>
<text x="501.5" y="110.9" font-size="9.50" font-weight="bold" fill="#222" textLength="61.3" lengthAdjust="spacingAndGlyphs">Switched PDU</text>
<line x1="482.0" y1="126.3" x2="499.8" y2="126.3" stroke="#fcc000" stroke-width="1.8"/>
<circle cx="490.6" cy="125.9" r="2.9" fill="url(#mY)"/>
<text x="501.5" y="129.0" font-size="9.50" font-weight="bold" fill="#222" textLength="65.5" lengthAdjust="spacingAndGlyphs">Intelligent PDU</text>
<g filter="url(#lsh)">
<polyline fill="none" stroke="#fcc000" stroke-width="2.1" stroke-linejoin="round" stroke-linecap="round" points="487.4,169.8 534.0,167.9 580.8,161.6 628.8,158.8"/>
<circle cx="487.4" cy="169.8" r="2.9" fill="url(#mY)"/>
<circle cx="534.0" cy="167.9" r="2.9" fill="url(#mY)"/>
<circle cx="580.8" cy="161.6" r="2.9" fill="url(#mY)"/>
<circle cx="628.8" cy="158.8" r="2.9" fill="url(#mY)"/>
<polyline fill="none" stroke="#b0b0b0" stroke-width="2.1" stroke-linejoin="round" stroke-linecap="round" points="487.4,165.4 534.0,163.7 580.8,155.2 628.8,152.3"/>
<circle cx="487.4" cy="165.4" r="2.9" fill="url(#mG)"/>
<circle cx="534.0" cy="163.7" r="2.9" fill="url(#mG)"/>
<circle cx="580.8" cy="155.2" r="2.9" fill="url(#mG)"/>
<circle cx="628.8" cy="152.3" r="2.9" fill="url(#mG)"/>
<polyline fill="none" stroke="#ee7d31" stroke-width="2.1" stroke-linejoin="round" stroke-linecap="round" points="487.4,161.6 534.0,159.7 580.8,148.7 628.8,143.0"/>
<circle cx="487.4" cy="161.6" r="2.9" fill="url(#mO)"/>
<circle cx="534.0" cy="159.7" r="2.9" fill="url(#mO)"/>
<circle cx="580.8" cy="148.7" r="2.9" fill="url(#mO)"/>
<circle cx="628.8" cy="143.0" r="2.9" fill="url(#mO)"/>
<polyline fill="none" stroke="#3259a8" stroke-width="2.1" stroke-linejoin="round" stroke-linecap="round" points="487.4,154.0 534.0,152.1 580.8,135.8 628.8,128.1"/>
<circle cx="487.4" cy="154.0" r="2.9" fill="url(#mB)"/>
<circle cx="534.0" cy="152.1" r="2.9" fill="url(#mB)"/>
<circle cx="580.8" cy="135.8" r="2.9" fill="url(#mB)"/>
<circle cx="628.8" cy="128.1" r="2.9" fill="url(#mB)"/>
</g>
<line x1="712.8" y1="67.8" x2="712.8" y2="162" stroke="#d0d0d0" stroke-width="1"/>
<g filter="url(#bsh)"><rect x="713.2" y="79" width="87.6" height="24.8" fill="#3b60a8"/></g>
<rect x="713.2" y="79" width="87.6" height="24.8" fill="#3b60a8"/>
<path d="M713.2 79h87.6l-1.6 1.4h-84.4z" fill="#5577bb"/><path d="M800.8 79v24.8h-87.6l1.6 -1.5h84.4v-21.9z" fill="#25427e"/>
<g filter="url(#bsh)"><rect x="713.2" y="126.9" width="33.6" height="23.8" fill="#f8893a"/></g>
<path d="M746.8 126.9v23.8h-33.6l1.6 -1.5h30.4v-20.9z" fill="#b95b14"/><path d="M713.2 126.9h33.6l-1.6 1.4h-30.4z" fill="#c87835"/><rect x="714.6" y="128.2" width="30.6" height="0.9" fill="#ffb277" opacity="0.8"/>
<text x="680.0" y="94.2" font-size="8.80" font-weight="bold" fill="#222" textLength="23.9" lengthAdjust="spacingAndGlyphs">2030F</text>
<text x="684.2" y="142.2" font-size="8.80" font-weight="bold" fill="#222" textLength="19.7" lengthAdjust="spacingAndGlyphs">2021</text>
<g filter="url(#bsh)"><path d="M783.3 128 L794.3 138.8 L788.6 138.8 L788.6 159.8 L777.6 159.8 L777.6 138.8 L772.3 138.8 Z" fill="url(#gArr)" stroke="#8f2f08" stroke-width="0.7" stroke-linejoin="round"/></g>
<path d="M783.3 130.2 L790.8 137.7 L787.4 137.7 L787.4 158.6" fill="none" stroke="#7a2606" stroke-width="1" stroke-opacity="0.55"/>
<path d="M783.3 130.2 L775.6 137.7 L778.8 137.7 L778.8 158.6" fill="none" stroke="#ff8a50" stroke-width="0.9" stroke-opacity="0.6"/>
<text x="717.6" y="233.5" font-size="12.80" font-weight="normal" fill="#262626" textLength="67.9" lengthAdjust="spacingAndGlyphs" stroke="#262626" stroke-width="0.3">USD XX MN</text>
<text x="704.2" y="286.8" font-size="9.30" font-weight="normal" fill="#262626" textLength="92.3" lengthAdjust="spacingAndGlyphs" stroke="#262626" stroke-width="0.3">HISTORIC YEAR: 2020</text>
<text x="713.6" y="299.7" font-size="9.30" font-weight="normal" fill="#262626" textLength="72.9" lengthAdjust="spacingAndGlyphs" stroke="#262626" stroke-width="0.3">BASE YEAR: 2021</text>
<text x="689.8" y="312.6" font-size="9.30" font-weight="normal" fill="#262626" textLength="121.0" lengthAdjust="spacingAndGlyphs" stroke="#262626" stroke-width="0.3">FORECAST YEAR: 2022-2030</text>
<g filter="url(#psh)">
<path d="M509.0 269.6L509.0 219.6A50.0 50.0 0 0 1 552.3 294.6Z" fill="url(#pB)"/>
<path d="M509.0 269.6L552.3 294.6A50.0 50.0 0 0 1 465.7 294.6Z" fill="url(#pO)"/>
<path d="M509.0 269.6L465.7 294.6A50.0 50.0 0 0 1 509.0 219.6Z" fill="url(#pG)"/>
</g>
<line x1="509.5" y1="269.1" x2="509.5" y2="220.4" stroke="#24386a" stroke-width="1.0" stroke-opacity="0.90" stroke-linecap="round"/>
<line x1="508.4" y1="269.1" x2="508.4" y2="220.4" stroke="#e4e4e4" stroke-width="0.9" stroke-opacity="0.90" stroke-linecap="round"/>
<line x1="509.7" y1="269.4" x2="551.9" y2="293.8" stroke="#243a70" stroke-width="1.0" stroke-opacity="0.85" stroke-linecap="round"/>
<line x1="509.1" y1="270.4" x2="551.3" y2="294.7" stroke="#ffc794" stroke-width="1.0" stroke-opacity="0.95" stroke-linecap="round"/>
<line x1="508.9" y1="270.4" x2="466.7" y2="294.7" stroke="#ffd0a0" stroke-width="1.1" stroke-opacity="0.95" stroke-linecap="round"/>
<line x1="508.3" y1="269.4" x2="466.1" y2="293.8" stroke="#7e7e7e" stroke-width="0.9" stroke-opacity="0.80" stroke-linecap="round"/>
<circle cx="509.0" cy="269.6" r="49.1" fill="none" stroke="url(#rim)" stroke-width="1.8"/>
<rect x="597.4" y="227.4" width="6" height="6" fill="#3d62aa"/>
<path d="M597.4 227.4h6l-3 3z" fill="#6f8fd0" opacity="0.8"/>
<text x="606.5" y="233.3" font-size="9.60" font-weight="bold" fill="#1a1a1a" textLength="24.5" lengthAdjust="spacingAndGlyphs">Cloud</text>
<rect x="597.4" y="264.7" width="6" height="6" fill="#f0802a"/>
<path d="M597.4 264.7h6l-3 3z" fill="#ffb07a" opacity="0.8"/>
<text x="606.5" y="271.0" font-size="9.60" font-weight="bold" fill="#1a1a1a" textLength="50.5" lengthAdjust="spacingAndGlyphs">On-Premise</text>
<rect x="597.4" y="302.2" width="6" height="6" fill="#a6a6a6"/>
<path d="M597.4 302.2h6l-3 3z" fill="#d5d5d5" opacity="0.8"/>
<text x="606.5" y="307.9" font-size="9.60" font-weight="bold" fill="#1a1a1a" textLength="29.5" lengthAdjust="spacingAndGlyphs">Hybrid</text>
<line x1="272.8" y1="450.3" x2="622.4" y2="450.3" stroke="#d4d4d4" stroke-width="1"/>
<g filter="url(#bsh)"><rect x="287.2" y="405.9" width="19.5" height="44.1" fill="url(#gDb)"/></g>
<rect x="288.2" y="405.9" width="17.5" height="1.2" fill="#5a7cc0"/>
<g filter="url(#bsh)"><rect x="317.9" y="412.9" width="21.6" height="37.1" fill="url(#gOr)"/></g>
<rect x="317.9" y="412.9" width="1" height="37.1" fill="#c9681f"/><rect x="338.4" y="412.9" width="1.1" height="37.1" fill="#9e4e12"/><rect x="318.9" y="412.9" width="19.6" height="1.1" fill="#ffb888"/>
<rect x="349.1" y="424.9" width="20.7" height="25.1" fill="url(#gGy)"/>
<rect x="380.0" y="426.0" width="21.0" height="24.0" fill="url(#gYe)"/>
<rect x="411.1" y="423.0" width="20.8" height="27.0" fill="url(#gBl)"/>
<g filter="url(#bsh)"><rect x="463.0" y="361.0" width="21.0" height="89.0" fill="url(#gDb)"/></g>
<rect x="464.0" y="361.0" width="19.0" height="1.2" fill="#5a7cc0"/>
<g filter="url(#bsh)"><rect x="493.1" y="376.1" width="21.8" height="73.9" fill="url(#gOr)"/></g>
<rect x="493.1" y="376.1" width="1" height="73.9" fill="#c9681f"/><rect x="513.8" y="376.1" width="1.1" height="73.9" fill="#9e4e12"/><rect x="494.1" y="376.1" width="19.8" height="1.1" fill="#ffb888"/>
<rect x="524.5" y="398.1" width="20.7" height="51.9" fill="url(#gGy)"/>
<rect x="555.7" y="400.0" width="20.4" height="50.0" fill="url(#gYe)"/>
<rect x="586.1" y="398.9" width="20.7" height="51.1" fill="url(#gBl)"/>
<text x="349.3" y="466.9" font-size="8.80" font-weight="bold" fill="#111" textLength="20.5" lengthAdjust="spacingAndGlyphs">2021</text>
<text x="522.4" y="466.9" font-size="8.80" font-weight="bold" fill="#111" textLength="25.3" lengthAdjust="spacingAndGlyphs">2030F</text>
<rect x="668.2" y="353.9" width="5.6" height="5.6" fill="#3d62aa"/>
<text x="676.9" y="359.6" font-size="9.20" font-weight="bold" fill="#1a1a1a" textLength="18.0" lengthAdjust="spacingAndGlyphs">BFSI</text>
<rect x="668.2" y="377.9" width="5.6" height="5.6" fill="#f0802a"/>
<text x="676.9" y="383.7" font-size="9.20" font-weight="bold" fill="#1a1a1a" textLength="105.8" lengthAdjust="spacingAndGlyphs">IT &amp; Telecommunication</text>
<rect x="668.2" y="401.9" width="5.6" height="5.6" fill="#a6a6a6"/>
<text x="676.9" y="407.4" font-size="9.20" font-weight="bold" fill="#1a1a1a" textLength="103.1" lengthAdjust="spacingAndGlyphs">Government &amp; Defence</text>
<rect x="668.2" y="425.4" width="5.6" height="5.6" fill="#fcc000"/>
<text x="676.9" y="430.9" font-size="9.20" font-weight="bold" fill="#1a1a1a" textLength="47.0" lengthAdjust="spacingAndGlyphs">Healthcare</text>
<rect x="668.2" y="449.1" width="5.6" height="5.6" fill="#4472c4"/>
<text x="676.9" y="454.7" font-size="9.20" font-weight="bold" fill="#1a1a1a" textLength="104.8" lengthAdjust="spacingAndGlyphs">Other End User Industry</text>
</svg>
<div class="para">
<div>The BFSI segment is investing heavily in IT infrastructure</div>
<div>and holds the majority of the market share in terms of</div>
<div>investments among all sectors. The major reason driving</div>
<div>this growth is a dynamic shift towards digitally enabled</div>
<div>services which is becoming one of the best ways to add</div>
<div>and retain customers. Furthermore, the finance sector is</div>
<div>also investing heavily in technologies like artificial</div>
<div>intelligence and machine learning, in order to enhance</div>
<div class="last">consumer experience and achieve targeted sales.</div>
</div>
</div></body></html>
